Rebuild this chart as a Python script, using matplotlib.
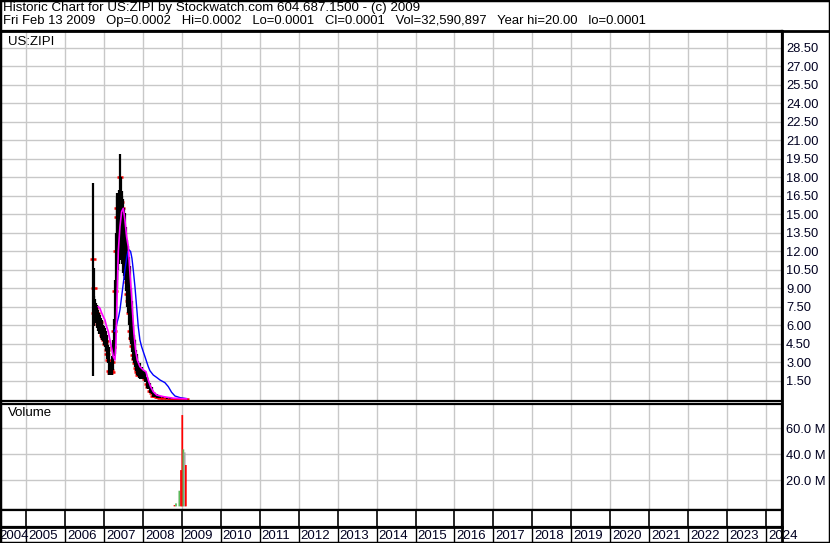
import matplotlib
matplotlib.use("Agg")
import matplotlib.pyplot as plt
from matplotlib.lines import Line2D
from matplotlib.patches import Rectangle
from matplotlib.ticker import FixedLocator, FuncFormatter

plt.rcParams['font.family'] = ['Liberation Sans', 'DejaVu Sans']

# header text
title_line1 = "Historic Chart for US:ZIPI by Stockwatch.com 604.687.1500 - (c) 2009"
title_line2 = "Fri Feb 13 2009   Op=0.0002   Hi=0.0002   Lo=0.0001   Cl=0.0001   Vol=32,590,897   Year hi=20.00   lo=0.0001"
symbol = "US:ZIPI"

years = list(range(2004, 2025))

# price bars (decimal year, high, low, close)
bar_dates = [2006.727, 2006.740, 2006.750, 2006.770, 2006.790, 2006.813, 2006.835, 2006.856,
             2006.877, 2006.898, 2006.920, 2006.941, 2006.962, 2006.984, 2007.005, 2007.027,
             2007.048, 2007.070, 2007.092, 2007.113, 2007.134, 2007.155, 2007.176, 2007.198,
             2007.220, 2007.241, 2007.262, 2007.284, 2007.305, 2007.327, 2007.348, 2007.370,
             2007.391, 2007.412, 2007.434, 2007.455, 2007.477, 2007.498, 2007.520, 2007.540,
             2007.562, 2007.583, 2007.605, 2007.626, 2007.648, 2007.669, 2007.690, 2007.712,
             2007.733, 2007.754, 2007.776, 2007.797, 2007.818, 2007.840, 2007.861, 2007.882,
             2007.904, 2007.925, 2007.968, 2008.011, 2008.054, 2008.097, 2008.140, 2008.182,
             2008.225, 2008.268, 2008.310, 2008.353, 2008.396, 2008.439, 2008.525, 2008.610,
             2008.695, 2008.781, 2008.866, 2008.952, 2009.035, 2009.120]
bar_high = [17.5, 10.6, 8.4, 8.1, 7.8, 7.6, 7.4, 7.2,
            7.0, 6.8, 6.6, 6.4, 6.2, 6.0, 5.9, 5.8,
            5.5, 5.2, 4.8, 4.4, 4.2, 3.0, 2.6, 2.7,
            3.5, 4.8, 6.5, 9.7, 13.5, 16.7, 16.4, 15.8,
            17.0, 19.9, 18.0, 16.9, 16.5, 16.2, 15.5, 15.1,
            14.0, 12.9, 12.6, 12.4, 11.5, 10.8, 9.0, 8.0,
            6.8, 5.9, 5.2, 4.8, 4.0, 3.7, 3.4, 3.1,
            2.9, 2.9, 2.6, 2.4, 2.3, 1.8, 1.5, 1.3,
            1.0, 0.6, 0.5, 0.4, 0.35, 0.3, 0.25, 0.2,
            0.15, 0.1, 0.08, 0.05, 0.02, 0.0002]
bar_low = [1.9, 5.9, 6.0, 6.2, 6.3, 6.2, 5.8, 5.5,
           5.3, 5.4, 5.0, 4.8, 4.9, 4.7, 4.4, 4.2,
           3.9, 3.6, 3.3, 2.9, 2.0, 2.0, 2.0, 2.0,
           2.2, 2.4, 3.5, 3.7, 6.5, 9.0, 9.7, 10.5,
           11.0, 11.3, 12.0, 12.1, 11.0, 10.2, 10.0, 9.7,
           8.8, 8.0, 7.5, 7.0, 6.0, 4.8, 4.5, 4.3,
           3.8, 3.2, 2.9, 2.6, 2.3, 2.1, 2.0, 1.9,
           1.7, 1.6, 1.6, 1.6, 1.4, 0.9, 0.8, 0.5,
           0.4, 0.15, 0.15, 0.12, 0.1, 0.08, 0.06, 0.05,
           0.03, 0.02, 0.01, 0.001, 0.0001, 0.0001]
bar_close = [11.4, 9.0, 7.0, 7.4, 6.9, 7.0, 6.4, 6.1,
             5.9, 6.3, 5.5, 5.2, 5.6, 5.0, 4.8, 4.5,
             4.7, 4.0, 3.7, 3.2, 2.3, 2.1, 2.4, 2.2,
             3.0, 4.2, 5.5, 8.8, 12.0, 15.5, 14.8, 12.5,
             16.2, 18.0, 16.0, 15.5, 14.0, 13.2, 12.0, 11.0,
             10.0, 9.5, 8.5, 8.0, 7.0, 5.5, 5.0, 4.8,
             4.3, 3.6, 3.3, 2.9, 2.5, 2.4, 2.2, 2.0,
             2.2, 2.0, 1.9, 1.8, 1.6, 1.2, 1.0, 0.7,
             0.5, 0.3, 0.25, 0.2, 0.15, 0.12, 0.1, 0.08,
             0.05, 0.04, 0.03, 0.01, 0.001, 0.0001]

# short moving average (magenta)
ma_short_dates = [2006.856, 2006.898, 2006.941, 2006.984, 2007.027, 2007.070, 2007.113, 2007.155,
                  2007.198, 2007.241, 2007.284, 2007.309, 2007.335, 2007.370, 2007.412, 2007.455,
                  2007.498, 2007.540, 2007.583, 2007.626, 2007.669, 2007.712, 2007.737, 2007.771,
                  2007.814, 2007.857, 2007.925, 2008.011, 2008.079, 2008.139, 2008.199, 2008.268,
                  2008.353, 2008.524, 2008.781, 2009.120]
ma_short = [7.50, 7.37, 7.0, 6.7, 6.42, 5.88, 5.48, 4.80,
            4.13, 3.45, 3.18, 4.5, 8.0, 12.0, 14.0, 15.2,
            15.48, 14.53, 13.18, 12.37, 10.21, 8.31, 6.96, 5.34,
            3.99, 3.18, 2.64, 2.37, 2.23, 1.56, 1.02, 0.61,
            0.34, 0.21, 0.08, 0.03]

# long moving average (blue)
ma_long_dates = [2007.270, 2007.309, 2007.344, 2007.378, 2007.412, 2007.455, 2007.498, 2007.540,
                 2007.583, 2007.617, 2007.651, 2007.686, 2007.720, 2007.754, 2007.797, 2007.840,
                 2007.882, 2007.925, 2007.968, 2008.011, 2008.054, 2008.097, 2008.139, 2008.182,
                 2008.268, 2008.353, 2008.439, 2008.567, 2008.653, 2008.738, 2008.824, 2008.952,
                 2009.120]
ma_long = [5.5, 5.75, 6.29, 6.69, 7.24, 8.31, 9.40, 10.48,
           11.43, 11.97, 12.10, 11.97, 11.43, 10.48, 9.13, 7.50,
           5.88, 4.80, 4.26, 3.85, 3.45, 3.04, 2.64, 2.31,
           1.96, 1.77, 1.56, 1.34, 1.02, 0.56, 0.26, 0.13,
           0.05]

# volume (millions)
vol_dates = [2008.813, 2008.851, 2008.937, 2008.980, 2009.012, 2009.040, 2009.074, 2009.104]
vol_values = [1.0, 2.3, 12.0, 27.9, 70.2, 43.8, 41.5, 31.8]
vol_colors = ['red', 'green', 'green', 'red', 'red', 'green', 'gray', 'red']

price_ticks = [1.5 * i for i in range(1, 20)]
vol_ticks = [20, 40, 60]

W, H = 830, 543
fig = plt.figure(figsize=(W / 100, H / 100), dpi=100)

grid_c = '#c8c8c8'
x_left = 2005 - 26 / 38.95
x_right = 2005 + 756 / 38.95


def px_axes(x0, y0, x1, y1):
    return fig.add_axes([x0 / W, 1 - y1 / H, (x1 - x0) / W, (y1 - y0) / H])


def frame(ax, lw=1.6):
    for s in ax.spines.values():
        s.set_color('black')
        s.set_linewidth(lw)


# main price panel
ax = px_axes(0, 31, 782, 401)
ax.set_xlim(x_left, x_right)
ax.set_ylim(-0.146, 29.86)
for y in years:
    ax.axvline(y, color=grid_c, lw=1.0, zorder=0)
for t in price_ticks:
    ax.axhline(t, color=grid_c, lw=1.0, zorder=0)
ax.plot(bar_dates, bar_close, '_', color='#ff0000', ms=4.5, mew=1.8, zorder=2)
ax.vlines(bar_dates, bar_low, bar_high, color='black', lw=1.6, zorder=3)
ax.plot(ma_long_dates, ma_long, color='#0000ff', lw=1.0, zorder=4)
ax.plot(ma_short_dates, ma_short, color='#ff00ff', lw=1.2, zorder=4)
ax.set_xticks([])
ax.yaxis.tick_right()
ax.yaxis.set_major_locator(FixedLocator(price_ticks))
ax.yaxis.set_major_formatter(FuncFormatter(lambda v, p: f"{v:.2f}"))
ax.tick_params(axis='y', length=0, pad=3, labelsize=9.3, labelcolor='#000020')
frame(ax)
ax.text(8 / 782, 1 - 11 / 370, symbol, transform=ax.transAxes, fontsize=9.5,
        va='center', ha='left')

# volume panel
axv = px_axes(0, 404, 782, 510)
axv.set_xlim(x_left, x_right)
axv.set_ylim(-2.8, 78.7)
for y in years:
    axv.axvline(y, color=grid_c, lw=1.0, zorder=0)
for t in vol_ticks:
    axv.axhline(t, color=grid_c, lw=1.0, zorder=0)
cmap = {'red': '#ff0000', 'green': '#5cb85c', 'gray': '#a8a8a8'}
for d, v, c in zip(vol_dates, vol_values, vol_colors):
    axv.bar(d, v, width=0.045, color=cmap[c], linewidth=0, align='center',
            zorder=2, snap=False)
axv.set_xticks([])
axv.yaxis.tick_right()
axv.yaxis.set_major_locator(FixedLocator(vol_ticks))
axv.yaxis.set_major_formatter(FuncFormatter(lambda v, p: f"{v:.1f} M"))
axv.tick_params(axis='y', length=0, pad=3, labelsize=9.3, labelcolor='#000020')
frame(axv)
axv.text(8 / 782, 1 - 9 / 106, "Volume", transform=axv.transAxes, fontsize=9.5,
         va='center', ha='left')

# date strip
axd = px_axes(0, 510, 782, 527)
axd.set_xlim(x_left, x_right)
axd.set_ylim(0, 1)
for y in years:
    axd.axvline(y, color='black', lw=1.2)
axd.set_xticks([])
axd.set_yticks([])
frame(axd)

# year label row
axl = px_axes(0, 527, 782, 543)
axl.set_xlim(x_left, x_right)
axl.set_ylim(0, 1)
for y in years:
    axl.axvline(y, color='black', lw=1.0)
    xp = 26 + (y - 2005) * 38.95 + 2
    if xp < 0:
        xp = -1
    axl.text(xp / 782, 0.45, str(y), transform=axl.transAxes, fontsize=9.5,
             ha='left', va='center', color='#000020', clip_on=False)
axl.set_xticks([])
axl.set_yticks([])
for s in axl.spines.values():
    s.set_visible(False)

# header
fig.text(3 / W, 1 - 8 / H, title_line1, fontsize=9.6, ha='left', va='center')
fig.text(3 / W, 1 - 21 / H, title_line2, fontsize=9.35, ha='left', va='center')
fig.add_artist(Line2D([0, 1], [1 - 31 / H, 1 - 31 / H], transform=fig.transFigure,
                      color='black', lw=2))
fig.add_artist(Line2D([782 / W, 782 / W], [0, 1 - 31 / H], transform=fig.transFigure,
                      color='black', lw=2))
fig.add_artist(Line2D([0, 782 / W], [1 - 527 / H, 1 - 527 / H], transform=fig.transFigure,
                      color='black', lw=2))
fig.add_artist(Rectangle((0, 0), 1, 1, transform=fig.transFigure, fill=False,
                         edgecolor='black', lw=2.5))

fig.savefig("out.png", dpi=100)
